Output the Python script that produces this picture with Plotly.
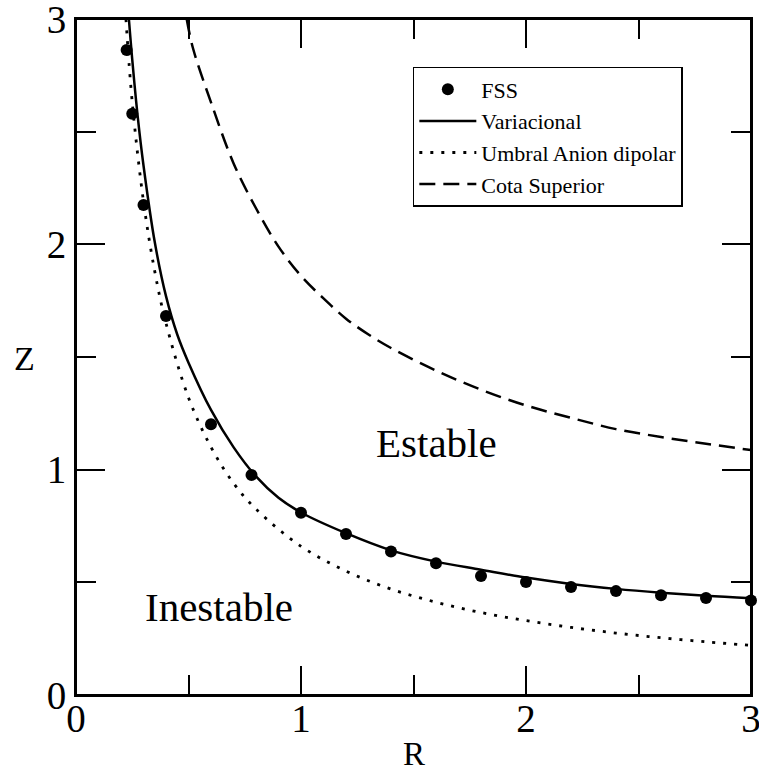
import plotly.graph_objects as go

# FSS points
fss_r = [0.225, 0.25, 0.30, 0.40, 0.60, 0.78, 1.0, 1.2, 1.4, 1.6, 1.8, 2.0, 2.2, 2.4, 2.6, 2.8, 3.0]
fss_z = [2.862, 2.58, 2.175, 1.682, 1.202, 0.976, 0.809, 0.715, 0.637, 0.585, 0.528, 0.501, 0.479, 0.461, 0.443, 0.430, 0.419]

# Variacional (solid)
var_r = [0.235, 0.25, 0.275, 0.30, 0.35, 0.40, 0.45, 0.50, 0.60, 0.70, 0.80, 0.90, 1.0, 1.2, 1.4, 1.6, 1.8, 2.0, 2.2, 2.4, 2.6, 2.8, 3.0]
var_z = [3.0, 2.82, 2.56, 2.35, 2.01, 1.77, 1.60, 1.475, 1.265, 1.10, 0.97, 0.875, 0.81, 0.718, 0.642, 0.592, 0.556, 0.521, 0.493, 0.471, 0.454, 0.440, 0.429]

# Umbral Anion dipolar (dotted)
dip_r = [0.222, 0.25, 0.30, 0.35, 0.40, 0.50, 0.60, 0.70, 0.80, 1.0, 1.2, 1.4, 1.6, 1.8, 2.0, 2.2, 2.4, 2.6, 2.8, 3.0]
dip_z = [3.0, 2.63, 2.19, 1.88, 1.65, 1.32, 1.10, 0.94, 0.825, 0.66, 0.55, 0.47, 0.412, 0.366, 0.33, 0.30, 0.275, 0.254, 0.236, 0.22]

# Cota Superior (dashed)
cota_r = [0.492, 0.52, 0.60, 0.70, 0.80, 0.90, 1.0, 1.1, 1.2, 1.3, 1.4, 1.6, 1.8, 2.0, 2.2, 2.4, 2.6, 2.8, 3.0]
cota_z = [3.0, 2.87, 2.63, 2.36, 2.16, 1.99, 1.86, 1.76, 1.67, 1.60, 1.54, 1.44, 1.355, 1.285, 1.23, 1.18, 1.145, 1.115, 1.087]

x_ticks = [0, 1, 2, 3]
y_ticks = [0, 1, 2, 3]

FONT = "Liberation Serif, Times New Roman, serif"

fig = go.Figure()
fig.add_trace(go.Scatter(x=fss_r, y=fss_z, mode="markers", name="FSS",
                         marker=dict(color="black", size=12), cliponaxis=False))
fig.add_trace(go.Scatter(x=var_r, y=var_z, mode="lines", name="Variacional",
                         line=dict(color="black", width=2.5, shape="spline", smoothing=1.0)))
fig.add_trace(go.Scatter(x=dip_r, y=dip_z, mode="lines", name="Umbral Anion dipolar",
                         line=dict(color="black", width=2.8, dash="3px,8px", shape="spline", smoothing=1.0)))
fig.add_trace(go.Scatter(x=cota_r, y=cota_z, mode="lines", name="Cota Superior",
                         line=dict(color="black", width=2.5, dash="16px,8px", shape="spline", smoothing=1.0)))

axis_common = dict(
    range=[0, 3], showgrid=False, zeroline=False, automargin=False,
    showline=True, linecolor="black", linewidth=2, mirror="allticks",
    ticks="inside", ticklen=29, tickwidth=2, tickcolor="black",
    tickfont=dict(family=FONT, size=39, color="black"),
    ticklabeloverflow="allow",
    minor=dict(ticks="inside", ticklen=20, tickwidth=2, tickcolor="black", dtick=0.5, tick0=0),
)

fig.update_xaxes(tickvals=x_ticks, ticktext=[str(v) for v in x_ticks], ticklabelstandoff=-12, **axis_common)
fig.update_yaxes(tickvals=y_ticks, ticktext=[str(v) for v in y_ticks], **axis_common)

fig.update_layout(
    width=759, height=775,
    margin=dict(l=76, r=8, t=19, b=80, autoexpand=False),
    paper_bgcolor="white", plot_bgcolor="white",
    font=dict(family=FONT, color="black"),
    showlegend=True,
    legend=dict(x=0.499, y=0.929, xanchor="left", yanchor="top",
                bgcolor="white", bordercolor="black", borderwidth=1.5,
                font=dict(family=FONT, size=22, color="black"),
                tracegroupgap=0, itemwidth=57),
    shapes=[dict(type="rect", xref="paper", yref="paper", x0=0, y0=0, x1=1, y1=1,
                 line=dict(color="black", width=2), layer="above")],
    annotations=[
        dict(text="Estable", x=1.604, y=1.118, xref="x", yref="y", showarrow=False,
             font=dict(family=FONT, size=41, color="black")),
        dict(text="Inestable", x=0.636, y=0.39, xref="x", yref="y", showarrow=False,
             font=dict(family=FONT, size=41, color="black")),
        dict(text="R", x=0.5, y=-0.117, xref="paper", yref="paper", showarrow=False,
             yanchor="bottom", font=dict(family=FONT, size=33, color="black")),
        dict(text="Z", x=-0.0756, y=0.4985, xref="paper", yref="paper", showarrow=False,
             xanchor="center", yanchor="middle", font=dict(family=FONT, size=34, color="black")),
    ],
)

fig.write_html("out.html")
